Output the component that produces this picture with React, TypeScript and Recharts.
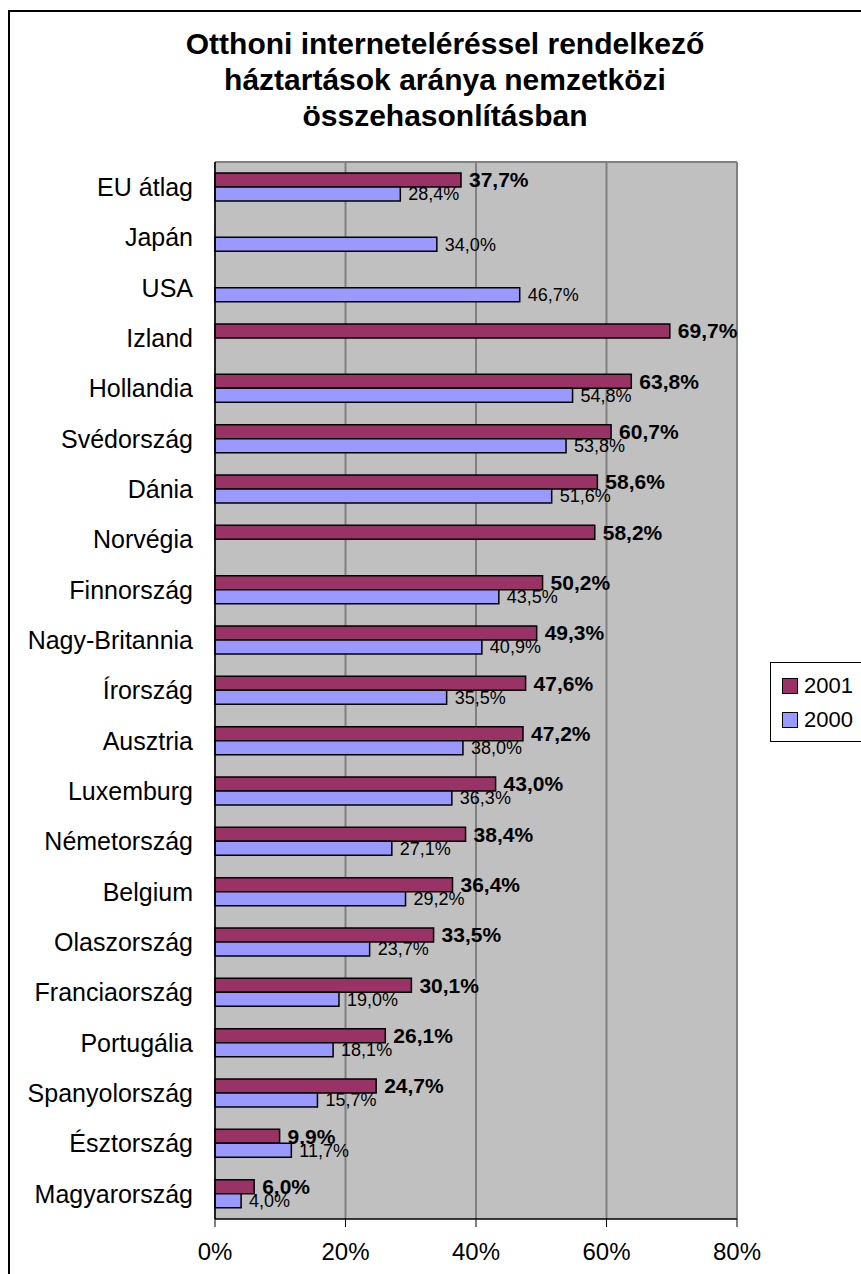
import { BarChart, Bar, XAxis, YAxis, CartesianGrid, LabelList, Legend } from "recharts";

const countries = [
  "EU átlag", "Japán", "USA", "Izland", "Hollandia", "Svédország", "Dánia",
  "Norvégia", "Finnország", "Nagy-Britannia", "Írország", "Ausztria", "Luxemburg",
  "Németország", "Belgium", "Olaszország", "Franciaország", "Portugália",
  "Spanyolország", "Észtország", "Magyarország",
];
const values2001 = [
  37.7, null, null, 69.7, 63.8, 60.7, 58.6, 58.2, 50.2, 49.3, 47.6, 47.2, 43.0,
  38.4, 36.4, 33.5, 30.1, 26.1, 24.7, 9.9, 6.0,
];
const values2000 = [
  28.4, 34.0, 46.7, null, 54.8, 53.8, 51.6, null, 43.5, 40.9, 35.5, 38.0, 36.3,
  27.1, 29.2, 23.7, 19.0, 18.1, 15.7, 11.7, 4.0,
];
const xTicks = [0, 20, 40, 60, 80];
const edgeTicks = countries.map((_, i) => i).concat(countries.length);
const titleLines = [
  "Otthoni interneteléréssel rendelkező",
  "háztartások aránya nemzetközi",
  "összehasonlításban",
];

const data = countries.map((name, i) => ({ name, y2001: values2001[i], y2000: values2000[i] }));

const FONT = "'Liberation Sans', Arial, sans-serif";
const fmt = (v: any) => (v == null ? "" : `${Number(v).toFixed(1).replace(".", ",")}%`);

function LegendBox() {
  const items = [
    { label: "2001", color: "#993366" },
    { label: "2000", color: "#9999FF" },
  ];
  return (
    <div style={{ border: "1px solid #000", width: 110, height: 80, background: "#fff", boxSizing: "border-box", paddingTop: 6 }}>
      {items.map((it) => (
        <div key={it.label} style={{ display: "flex", alignItems: "center", height: 34, paddingLeft: 11 }}>
          <div style={{ width: 14, height: 14, background: it.color, border: "1.5px solid #000", marginRight: 6 }} />
          <span style={{ fontSize: 22, fontFamily: FONT, color: "#000" }}>{it.label}</span>
        </div>
      ))}
    </div>
  );
}

export default function App() {
  return (
    <div style={{ position: "absolute", left: 0, top: 0, width: 861, height: 1274, overflow: "hidden", background: "#fff", fontFamily: FONT }}>
      <div style={{ position: "absolute", left: 8, top: 10, width: 950, height: 1400, border: "2px solid #000", boxSizing: "border-box" }} />
      <div style={{ position: "absolute", left: 0, top: 26, width: 890, textAlign: "center", fontWeight: "bold", fontSize: 30, lineHeight: "36px", color: "#000" }}>
        {titleLines.map((t) => (
          <div key={t}>{t}</div>
        ))}
      </div>
      <div style={{ position: "absolute", left: 0, top: 0 }}>
        <BarChart
          width={861}
          height={1274}
          data={data}
          layout="vertical"
          margin={{ top: 162, right: 124, bottom: 0, left: 0 }}
          barSize={14}
          barGap={0}
        >
          <CartesianGrid
            fill="#C0C0C0"
            stroke="#808080"
            strokeWidth={2}
            horizontalCoordinatesGenerator={({ offset }: any) => [offset.top]}
          />
          <XAxis
            type="number"
            domain={[0, 80]}
            ticks={xTicks}
            tickFormatter={(v) => `${v}%`}
            axisLine={{ stroke: "#000", strokeWidth: 1.5 }}
            tickLine={{ stroke: "#000" }}
            tickSize={8}
            tickMargin={16}
            tick={{ fill: "#000", fontSize: 24, fontFamily: FONT }}
            height={55}
            interval={0}
          />
          <YAxis
            yAxisId="edges"
            type="number"
            domain={[0, countries.length]}
            ticks={edgeTicks}
            reversed
            width={0}
            axisLine={false}
            tickLine={{ stroke: "#000" }}
            tickSize={8}
            tick={() => <g />}
            interval={0}
          />
          <YAxis
            type="category"
            dataKey="name"
            width={215}
            axisLine={{ stroke: "#000", strokeWidth: 1.5 }}
            tickLine={false}
            tickSize={8}
            tickMargin={14}
            tick={{ fill: "#000", fontSize: 25, fontFamily: FONT }}
            interval={0}
          />
          <Legend
            layout="horizontal"
            verticalAlign="middle"
            align="center"
            content={() => <LegendBox />}
            wrapperStyle={{ position: "absolute", left: 770, top: 662, width: 110 }}
          />
          <Bar dataKey="y2001" name="2001" fill="#993366" stroke="#000" strokeWidth={1.5} isAnimationActive={false}>
            <LabelList dataKey="y2001" position="right" offset={8} formatter={fmt} fill="#000" fontSize={21} fontWeight="bold" fontFamily={FONT} />
          </Bar>
          <Bar dataKey="y2000" name="2000" fill="#9999FF" stroke="#000" strokeWidth={1.5} isAnimationActive={false}>
            <LabelList dataKey="y2000" position="right" offset={8} formatter={fmt} fill="#000" fontSize={18} fontFamily={FONT} />
          </Bar>
        </BarChart>
      </div>
    </div>
  );
}
